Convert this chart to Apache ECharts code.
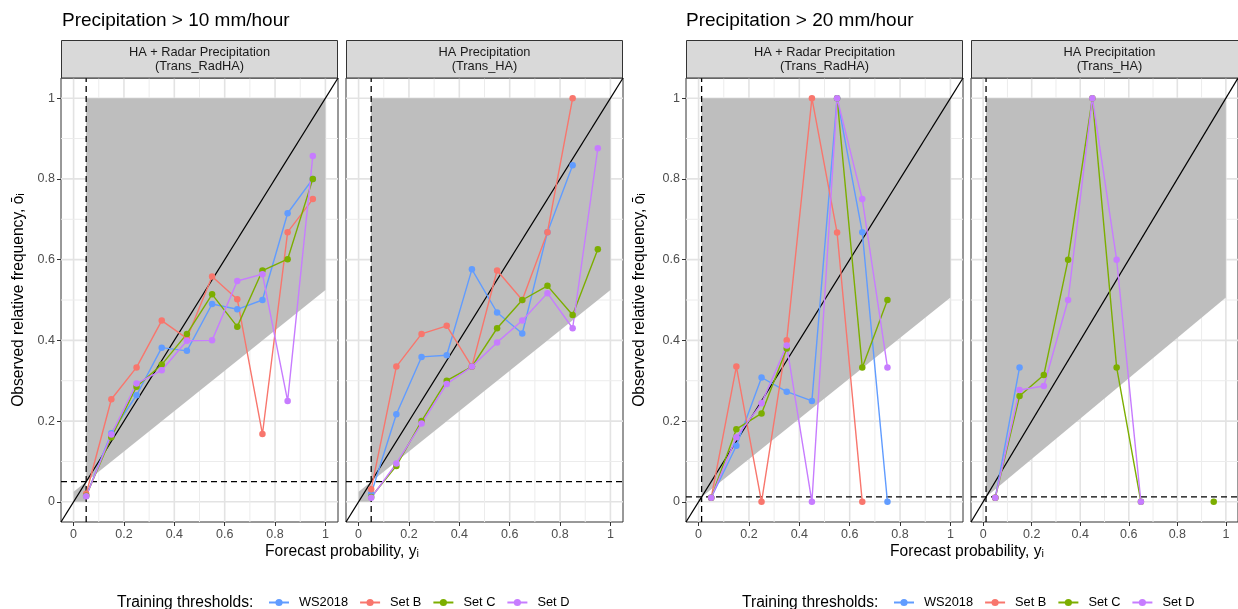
<!DOCTYPE html>
<html>
<head>
<meta charset="utf-8">
<script src="https://cdn.jsdelivr.net/npm/echarts@6/dist/echarts.min.js"></script>
<style>
  html, body { margin: 0; padding: 0; background: #fff; }
  #chart { width: 1238px; height: 609px; }
</style>
</head>
<body>
<div id="chart"></div>
<script>
// forecast probability bins (x) shared by every panel
const binCenters = [0.05, 0.15, 0.25, 0.35, 0.45, 0.55, 0.65, 0.75, 0.85, 0.95]

const groupTitles = ['Precipitation > 10 mm/hour', 'Precipitation > 20 mm/hour']
const stripTitles = [
  'HA + Radar Precipitation\n(Trans_RadHA)',
  'HA Precipitation\n(Trans_HA)',
  'HA + Radar Precipitation\n(Trans_RadHA)',
  'HA Precipitation\n(Trans_HA)'
]
// climatology (sample frequency) for each panel
const climate = [0.05, 0.05, 0.012, 0.012]

const setNames = ['WS2018', 'Set B', 'Set C', 'Set D']
const setColors = ['#619CFF', '#F8766D', '#7CAE00', '#C77CFF']

const majorTicks = [0, 0.2, 0.4, 0.6, 0.8, 1]
const minorTicks = [0.1, 0.3, 0.5, 0.7, 0.9]

// observed relative frequency, null = empty bin
// > 10 mm/hour, Trans_RadHA
const radHA10WS = [0.015, 0.17, 0.264, 0.382, 0.374, 0.49, 0.477, 0.5, 0.715, 0.8]
const radHA10B = [0.02, 0.254, 0.333, 0.449, 0.405, 0.558, 0.502, 0.168, 0.668, 0.75]
const radHA10C = [0.015, 0.16, 0.285, 0.34, 0.416, 0.514, 0.434, 0.573, 0.601, 0.8]
const radHA10D = [0.014, 0.167, 0.293, 0.326, 0.399, 0.4, 0.547, 0.564, 0.25, 0.857]
// > 10 mm/hour, Trans_HA
const ha10WS = [0.02, 0.217, 0.359, 0.363, 0.576, 0.469, 0.417, 0.668, 0.834, null]
const ha10B = [0.031, 0.335, 0.416, 0.436, 0.335, 0.573, 0.5, 0.668, 1.0, null]
const ha10C = [0.012, 0.089, 0.2, 0.3, 0.335, 0.43, 0.5, 0.535, 0.463, 0.626]
const ha10D = [0.01, 0.095, 0.194, 0.292, 0.335, 0.395, 0.449, 0.517, 0.43, 0.876]
// > 20 mm/hour, Trans_RadHA
const radHA20WS = [0.01, 0.139, 0.308, 0.273, 0.25, 1.0, 0.668, 0.0, null, null]
const radHA20B = [0.01, 0.335, 0.0, 0.4, 1.0, 0.667, 0.0, null, null, null]
const radHA20C = [0.01, 0.18, 0.219, 0.38, null, 1.0, 0.333, 0.5, null, null]
const radHA20D = [0.01, 0.16, 0.244, 0.387, 0.0, 1.0, 0.75, 0.333, null, null]
// > 20 mm/hour, Trans_HA
const ha20WS = [0.01, 0.333, null, null, null, null, null, null, null, null]
const ha20B = [0.01, null, null, null, null, null, null, null, null, null]
const ha20C = [0.01, 0.262, 0.314, 0.6, 1.0, 0.333, 0.0, null, null, 0.0]
const ha20D = [0.01, 0.277, 0.287, 0.5, 1.0, 0.6, 0.0, null, null, null]

const panels = [
  [radHA10WS, radHA10B, radHA10C, radHA10D],
  [ha10WS, ha10B, ha10C, ha10D],
  [radHA20WS, radHA20B, radHA20C, radHA20D],
  [ha20WS, ha20B, ha20C, ha20D]
]

const FONT = 'Liberation Sans, Arial, Helvetica, sans-serif'
const panelLeft = [61, 346, 686, 971]
const panelTop = 78
const panelW = 277
const panelH = 444
const LO = -0.05, HI = 1.05

const chart = echarts.init(document.getElementById('chart'))

function gridLines(i) {
  return {
    type: 'custom', xAxisIndex: i, yAxisIndex: i, silent: true, z: 1,
    data: majorTicks.map(v => [v, 1]).concat(minorTicks.map(v => [v, 0])),
    renderItem(params, api) {
      var v = api.value(0)
      var major = api.value(1) === 1
      var style = { stroke: major ? '#E3E3E3' : '#ECECEC', lineWidth: major ? 1.6 : 1 }
      var a = api.coord([v, LO]), b = api.coord([v, HI])
      var c = api.coord([LO, v]), d = api.coord([HI, v])
      return {
        type: 'group', children: [
          { type: 'line', shape: { x1: a[0], y1: a[1], x2: b[0], y2: b[1] }, style },
          { type: 'line', shape: { x1: c[0], y1: c[1], x2: d[0], y2: d[1] }, style }
        ]
      }
    }
  }
}

function skillArea(i) {
  var c = climate[i]
  return {
    type: 'custom', xAxisIndex: i, yAxisIndex: i, silent: true, z: 2,
    data: [[c, c]],
    renderItem(params, api) {
      var pt = (x, y) => api.coord([x, y])
      var style = { fill: '#BEBEBE' }
      return {
        type: 'group', children: [
          { type: 'polygon', shape: { points: [pt(0, 0), pt(c, 0), pt(c, c), pt(0, c / 2)] }, style },
          { type: 'polygon', shape: { points: [pt(c, c), pt(1, (1 + c) / 2), pt(1, 1), pt(c, 1)] }, style }
        ]
      }
    }
  }
}

function refLine(i, data, dashed) {
  return {
    type: 'line', xAxisIndex: i, yAxisIndex: i, silent: true, z: 3,
    data, symbol: 'none', animation: false,
    lineStyle: { color: '#000', width: 1.3, type: dashed ? [6, 4] : 'solid' }
  }
}

var series = []
var grids = [], xAxes = [], yAxes = []

panels.forEach((sets, i) => {
  var c = climate[i]
  grids.push({
    left: panelLeft[i], top: panelTop, width: panelW, height: panelH,
    show: true, backgroundColor: '#fff', borderColor: '#333', borderWidth: 1
  })
  xAxes.push({
    type: 'value', gridIndex: i, min: LO, max: HI,
    axisLine: { show: false, onZero: false },
    splitLine: { show: false },
    axisTick: { show: true, length: 4, lineStyle: { color: '#333', width: 1 }, customValues: majorTicks },
    axisLabel: { show: true, customValues: majorTicks, margin: 6, color: '#4D4D4D', fontSize: 12.5, fontFamily: FONT }
  })
  var isLeft = i % 2 === 0
  yAxes.push({
    type: 'value', gridIndex: i, min: LO, max: HI,
    name: isLeft ? 'Observed relative frequency, ōᵢ' : '',
    nameLocation: 'middle', nameRotate: 90, nameGap: i === 0 ? 34 : 38,
    nameTextStyle: { color: '#000', fontSize: 15.6, fontFamily: FONT },
    axisLine: { show: false, onZero: false },
    splitLine: { show: false },
    axisTick: { show: isLeft, length: 4, lineStyle: { color: '#333', width: 1 }, customValues: majorTicks },
    axisLabel: { show: isLeft, customValues: majorTicks, margin: 6, color: '#4D4D4D', fontSize: 12.5, fontFamily: FONT }
  })

  series.push(gridLines(i), skillArea(i))
  series.push(refLine(i, [[LO, LO], [HI, HI]], false))
  series.push(refLine(i, [[c, LO], [c, HI]], true))
  series.push(refLine(i, [[LO, c], [HI, c]], true))

  sets.forEach((vals, k) => {
    series.push({
      type: 'line', name: setNames[k], xAxisIndex: i, yAxisIndex: i, z: 4,
      data: binCenters.map((x, j) => [x, vals[j] == null ? '-' : vals[j]]),
      symbol: 'circle', symbolSize: 6.5, showSymbol: true, showAllSymbol: true,
      color: setColors[k],
      lineStyle: { width: 1.4, color: setColors[k] },
      itemStyle: { color: setColors[k] },
      emphasis: { disabled: true },
      animation: false
    })
  })
})

var graphic = []
panels.forEach((p, i) => {
  graphic.push({
    type: 'rect', z: 10,
    shape: { x: panelLeft[i] + 0.5, y: 40.5, width: panelW - 1, height: 37.5 },
    style: { fill: '#D9D9D9', stroke: '#333', lineWidth: 1 }
  })
  graphic.push({
    type: 'text', z: 11, x: panelLeft[i] + panelW / 2, y: 59.5,
    style: {
      text: stripTitles[i], align: 'center', verticalAlign: 'middle',
      fontSize: 12.8, lineHeight: 13.5, fontFamily: FONT, fill: '#1A1A1A'
    }
  })
})
;[0, 1].forEach(g => {
  var mid = (panelLeft[g * 2] + panelLeft[g * 2 + 1] + panelW) / 2
  graphic.push({
    type: 'text', x: mid, y: 552,
    style: {
      text: 'Forecast probability, yᵢ', align: 'center', verticalAlign: 'middle',
      fontSize: 15.6, fontFamily: FONT, fill: '#000'
    }
  })
  graphic.push({
    type: 'text', x: 117 + g * 625, y: 603,
    style: {
      text: 'Training thresholds:', align: 'left', verticalAlign: 'middle',
      fontSize: 15.6, fontFamily: FONT, fill: '#000'
    }
  })
})

chart.setOption({
  animation: false,
  title: groupTitles.map((t, g) => ({
    text: t, left: 62 + g * 624, top: 11, padding: 0,
    textStyle: { fontSize: 19, fontWeight: 'normal', color: '#000', fontFamily: FONT }
  })),
  legend: [0, 1].map(g => ({
    data: setNames, left: 268 + g * 625, top: 596, padding: 0,
    itemWidth: 20, itemHeight: 9, itemGap: 11,
    textStyle: { fontSize: 12.8, color: '#000', fontFamily: FONT, padding: [0, 0, 0, 5] }
  })),
  grid: grids,
  xAxis: xAxes,
  yAxis: yAxes,
  series,
  graphic
})
</script>
</body>
</html>
